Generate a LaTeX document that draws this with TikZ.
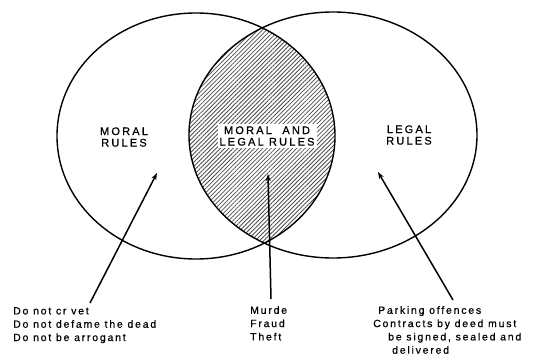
\documentclass[tikz,border=0pt]{standalone}
\usepackage{fontspec}
\usetikzlibrary{arrows.meta,patterns.meta,shapes.geometric}
\newfontfamily\lblfont[LetterSpace=20,FakeBold=0.8]{Liberation Sans}
\newfontfamily\txtfont[LetterSpace=17,FakeBold=0.6]{Liberation Sans}
\tikzset{
  setcirc/.style={ellipse, draw, line width=1.4pt, inner sep=0pt},
  caplabel/.style={font=\lblfont\fontsize{11}{11.5}\selectfont, align=center, inner sep=2pt},
  example/.style={font=\txtfont\fontsize{10.5}{13.3}\selectfont, align=left, anchor=north west, inner sep=0pt},
  pointer/.style={line width=1.5pt, -{Stealth[length=7pt,width=5pt]}}
}
\begin{document}
\begin{tikzpicture}[x=1pt,y=-1pt]
\useasboundingbox (0,0) rectangle (533,356);
% hatched lens
\begin{scope}
  \clip (196,136) ellipse [x radius=139, y radius=123];
  \clip (333,135) ellipse [x radius=144, y radius=123];
  \fill[pattern={Lines[angle=45,distance=3pt,line width=0.8pt]}, pattern color=black!70] (180,0) rectangle (350,260);
\end{scope}
\node[setcirc, minimum width=278pt, minimum height=246pt] (moral) at (196,136) {};
\node[setcirc, minimum width=288pt, minimum height=246pt] (legal) at (333,135) {};
\node[caplabel] (ml) at (124,137) {MORAL\\RULES};
\node[caplabel, fill=white] (both) at (267,136) {MORAL\ \ AND\\LEGAL RULES};
\node[caplabel] (ll) at (409,135) {LEGAL\\RULES};
\node[example] (t1) at (13,307) {Do not cr vet\\Do not defame the dead\\Do not be arrogant};
\node[example] (t2) at (250,306) {Murde\\Fraud\\Theft};
\node[example] (t3) at (373,306) {\hspace*{5pt}Parking offences\\Contracts by deed must\\\hspace*{15pt}be signed, sealed and\\\hspace*{19pt}delivered};
\coordinate (a1s) at (90,303);
\coordinate (a1e) at (157,173);
\coordinate (a2s) at (271,299);
\coordinate (a2e) at (268,174);
\coordinate (a3s) at (453,300);
\coordinate (a3e) at (378,172);
\draw[pointer] (a1s) -- (a1e);
\draw[pointer] (a2s) -- (a2e);
\draw[pointer] (a3s) -- (a3e);
\end{tikzpicture}
\end{document}
